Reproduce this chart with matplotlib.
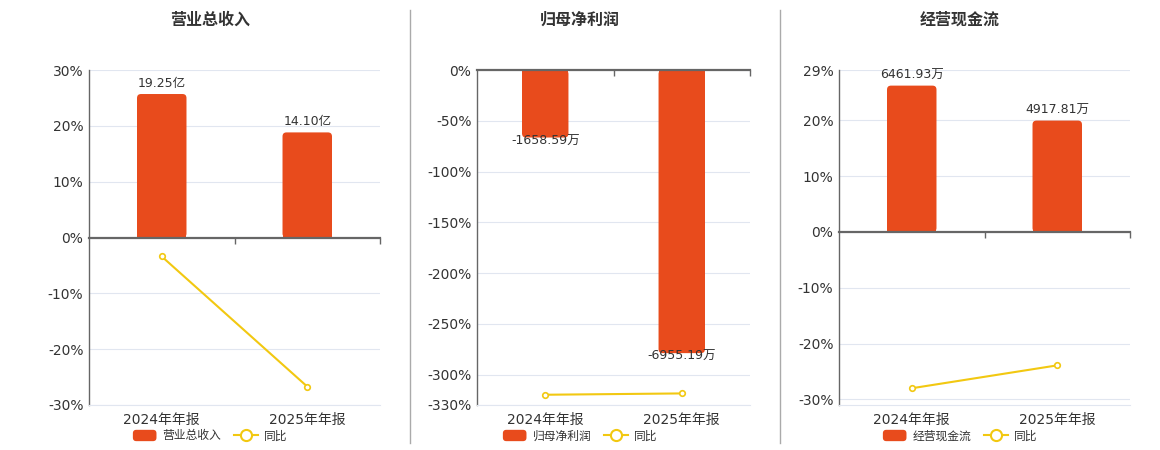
import numpy as np
import matplotlib
matplotlib.use("Agg")
import matplotlib.pyplot as plt
from matplotlib.patches import Patch, FancyBboxPatch
from matplotlib.lines import Line2D
from matplotlib.legend_handler import HandlerPatch

plt.rcParams['font.family'] = ['DejaVu Sans', 'Noto Sans CJK SC']

periods = ['2024年年报', '2025年年报']
titles = ['营业总收入', '归母净利润', '经营现金流']

revenue = [19.25, 14.10]          # 亿
revenue_yoy = [-3.4, -26.7]       # %
profit = [-1658.59, -6955.19]     # 万
profit_yoy = [-319.9, -318.6]
cash = [6461.93, 4917.81]         # 万
cash_yoy = [-28.0, -23.9]

units = ['亿', '万', '万']
pct_limits = [(-30, 30), (-330, 0), (-31, 29)]
pct_ticks = [[-30, -20, -10, 0, 10, 20, 30],
             [-330, -300, -250, -200, -150, -100, -50, 0],
             [-30, -20, -10, 0, 10, 20, 29]]
# how many percent points one bar unit spans on each panel
bar_scale = [1.335, 0.0401, 0.004055]

BAR = '#E84B1C'
LINE = '#F2C811'
GRID = '#E1E6F0'
AXIS = '#666666'
TXT = '#333333'

# axes boxes in pixels (left, right), shared top/bottom
W, H = 1160, 450
boxes = [(89, 380), (477, 750), (839, 1130)]
centers = [210, 580, 960]
top_px, bot_px = 70, 405
corner_px = 4


class RoundPatchHandler(HandlerPatch):
    def create_artists(self, legend, orig_handle, xdescent, ydescent,
                       width, height, fontsize, trans):
        p = FancyBboxPatch((-xdescent, -ydescent), width, height,
                           boxstyle='round,pad=0,rounding_size=2.5',
                           facecolor=orig_handle.get_facecolor(),
                           edgecolor='none', transform=trans)
        return [p]


fig = plt.figure(figsize=(W / 100, H / 100), dpi=100)

bars_all = [revenue, profit, cash]
yoy_all = [revenue_yoy, profit_yoy, cash_yoy]
x = np.arange(len(periods))

for i in range(3):
    l, r = boxes[i]
    ax = fig.add_axes([l / W, 1 - bot_px / H, (r - l) / W, (bot_px - top_px) / H])
    lo, hi = pct_limits[i]
    ax.set_ylim(lo, hi)
    ax.set_xlim(-0.5, len(periods) - 0.5)
    ax.set_yticks(pct_ticks[i])
    ax.set_yticklabels([f'{t}%' for t in pct_ticks[i]])
    ax.set_xticks(x)
    ax.set_xticklabels(periods)
    ax.tick_params(axis='y', length=0, pad=4, labelsize=10, labelcolor=TXT)
    ax.tick_params(axis='x', length=0, pad=6, labelsize=10, labelcolor=TXT)
    ax.grid(axis='y', color=GRID, lw=0.8)
    ax.set_axisbelow(True)
    for s in ['top', 'right']:
        ax.spines[s].set_visible(False)
    ax.spines['left'].set_color(AXIS)
    ax.spines['left'].set_linewidth(1)
    ax.spines['bottom'].set_color(GRID)
    ax.spines['bottom'].set_linewidth(0.8)

    axb = ax.twinx()
    f = bar_scale[i]
    axb.set_ylim(lo / f, hi / f)
    axb.set_axis_off()
    vals = bars_all[i]
    bars = axb.bar(x, vals, width=0.34, color=BAR, zorder=2)
    axb.set_xlim(-0.5, len(periods) - 0.5)

    # rounded far end of each bar
    rx = corner_px * len(periods) / (r - l)
    ry = corner_px * ((hi - lo) / f) / (bot_px - top_px)
    for rect, v in zip(bars, vals):
        sign = 1 if v >= 0 else -1
        rect.set_height(v - sign * ry)
        axb.add_patch(FancyBboxPatch((rect.get_x(), min(0, v)), rect.get_width(), abs(v),
                                     boxstyle=f'round,pad=0,rounding_size={rx}',
                                     mutation_aspect=ry / rx, facecolor=BAR,
                                     edgecolor='none', zorder=2))

    for xi, v in zip(x, vals):
        lab = f'{v:.2f}{units[i]}'
        if v >= 0:
            axb.annotate(lab, (xi, v), xytext=(0, 3), textcoords='offset points',
                         ha='center', va='bottom', fontsize=9, color=TXT)
        else:
            axb.annotate(lab, (xi, v), xytext=(0, 2), textcoords='offset points',
                         ha='center', va='top', fontsize=9, color=TXT)

    # zero axis with category boundary ticks
    axb.axhline(0, color=AXIS, lw=1.6, clip_on=False, zorder=3)
    axb.plot(x + 0.5, np.zeros(len(x)), ls='none', marker=3, ms=4,
             mew=1, color=AXIS, clip_on=False, zorder=3)

    # yoy line on the percent scale
    axb.plot(x, yoy_all[i], transform=ax.transData, color=LINE, lw=1.5,
             marker='o', ms=4, mfc='white', mec=LINE, mew=1.2, zorder=4)

    fig.text(centers[i] / W, 1 - 20 / H, titles[i], ha='center', va='center',
             fontsize=11.5, fontweight='bold', color=TXT)

    handles = [Patch(facecolor=BAR),
               Line2D([], [], color=LINE, lw=1.5, marker='o', ms=8,
                      mfc='white', mec=LINE, mew=1.5)]
    fig.legend(handles, [titles[i], '同比'], loc='center',
               bbox_to_anchor=(centers[i] / W, 1 - 436 / H), ncol=2,
               frameon=False, fontsize=8.5, handlelength=2.0, handleheight=1.1,
               handletextpad=0.5, columnspacing=1.1, labelcolor=TXT,
               handler_map={Patch: RoundPatchHandler()})

for sx in [410, 780]:
    fig.add_artist(Line2D([sx / W, sx / W], [1 - 10 / H, 1 - 443 / H],
                          color='#AAAAAA', lw=1))

fig.savefig('out.png', dpi=100)
